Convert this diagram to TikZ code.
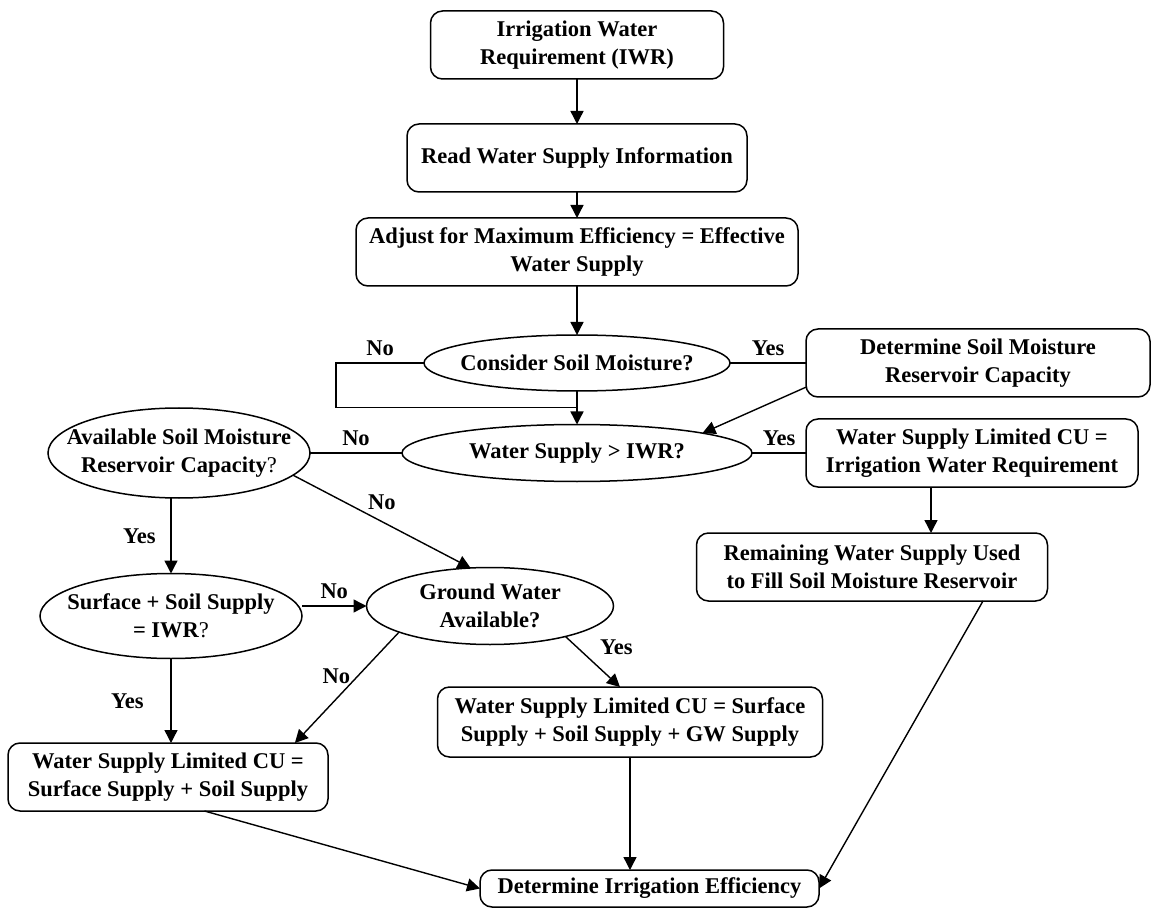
\documentclass[tikz,border=0pt]{standalone}
\usepackage{fontspec}
\setmainfont{Liberation Serif}
\usetikzlibrary{
    arrows.meta,
    shapes,
    calc,
    positioning
}
\tikzset{
    box/.style={draw, rounded corners=6pt, align=center, line width=0.75pt, inner sep=2pt, outer sep=0pt},
    decision/.style={draw, ellipse, line width=0.75pt, inner sep=0pt, outer sep=0pt, label={[align=center]center:#1}},
    arr/.style={-{Triangle[length=6.5pt,width=6.5pt]}, line width=0.7pt},
    wire/.style={line width=0.7pt}
}

\begin{document}
\begin{tikzpicture}[x=0.5pt, y=-0.5pt, font=\fontsize{11.25}{14}\selectfont\bfseries]
                        \useasboundingbox (0,0) rectangle (1152,909);

                        \node[box, minimum width=146.5pt, minimum height=34pt] (iwr) at (577,45) {Irrigation Water\\Requirement (IWR)};
                        \node[box, minimum width=170pt, minimum height=34pt] (read) at (577,158) {Read Water Supply Information};
                        \node[box, minimum width=221pt, minimum height=34pt] (adjust) at (577,252) {Adjust for Maximum Efficiency = Effective\\Water Supply};
                        \node[decision={Consider Soil Moisture?}, minimum width=153pt, minimum height=28pt] (soil) at (577,363) {};
                        \node[box, minimum width=172pt, minimum height=34pt] (detsm) at (978,363) {Determine Soil Moisture\\Reservoir Capacity};
                        \node[decision={Water Supply > IWR?}, minimum width=175pt, minimum height=28.5pt] (wsiwr) at (577,453) {};
                        \node[box, minimum width=166pt, minimum height=34pt] (wsl) at (972,453) {Water Supply Limited CU =\\Irrigation Water Requirement};
                        \node[box, minimum width=175.5pt, minimum height=34pt] (remain) at (872,567) {Remaining Water Supply Used\\to Fill Soil Moisture Reservoir};
                        \node[decision={Available Soil Moisture\\Reservoir Capacity{\mdseries ?}}, minimum width=131pt, minimum height=45pt] (asm) at (179,453) {};
                        \node[decision={Ground Water\\Available?}, minimum width=123.5pt, minimum height=38.5pt] (gw) at (490,606) {};
                        \node[decision={Surface + Soil Supply\\= IWR{\mdseries ?}}, minimum width=131pt, minimum height=42.5pt] (surf) at (171,616) {};
                        \node[box, minimum width=160pt, minimum height=34pt] (sl) at (168,777) {Water Supply Limited CU =\\Surface Supply + Soil Supply};
                        \node[box, minimum width=192.5pt, minimum height=35pt] (gwbox) at (630,722) {Water Supply Limited CU = Surface\\Supply + Soil Supply + GW Supply};
                        \node[box, minimum width=169.5pt, minimum height=18.5pt] (det) at (649.5,888.5) {Determine Irrigation Efficiency};

                        \draw[arr] (iwr) -- (read);
                        \draw[arr] (read) -- (adjust);
                        \draw[arr] (adjust) -- (soil);
                        \draw[arr] (soil) -- (wsiwr);
                        \draw[wire] (soil.west) -- node[above]{No} ++(-88,0) |- ($(soil.south)!0.5!(wsiwr.north)$);
                        \draw[wire] (soil.east) -- node[above]{Yes} (detsm.west);
                        \draw[arr] (detsm.188) -- (wsiwr.9);
                        \draw[wire] (wsiwr.east) -- node[above]{Yes} (wsl.west);
                        \draw[arr] ($(wsl.south)+(-41,0)$) -- ($(remain.north)+(59,0)$);
                        \draw[arr] ($(remain.south)+(111,0)$) -- (det.east);
                        \draw[wire] (asm.east) -- node[above]{No} (wsiwr.west);
                        \draw[arr] (asm.-11) -- node[above=2pt]{No} (gw.117);
                        \draw[arr] (surf.north |- asm.south) -- node[left=4pt]{Yes} (surf.north);
                        \draw[arr] (surf.east |- gw.west) -- node[above]{No} (gw.west);
                        \draw[arr] (surf.south) -- node[left=10pt]{Yes} (surf.south |- sl.north);
                        \draw[arr] (gw.196) -- node[pos=0.4, left]{No} (sl.15);
                        \draw[arr] (gw.-22) -- node[midway, above right]{Yes} (gwbox.106);
                        \draw[arr] (gwbox.south) -- (gwbox.south |- det.north);
                        \draw[arr] (sl.-43) -- (det.west);
                    \end{tikzpicture}
\end{document}
